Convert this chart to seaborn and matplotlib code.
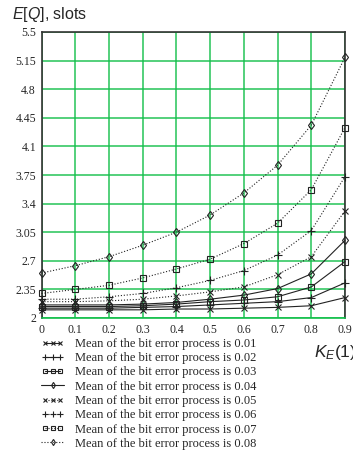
import matplotlib
matplotlib.use("Agg")
import matplotlib.pyplot as plt
import seaborn as sns
import pandas as pd
from matplotlib.lines import Line2D
from matplotlib.legend_handler import HandlerLine2D

sns.set_style("white")
plt.rcParams['mathtext.fontset'] = 'custom'
plt.rcParams['mathtext.it'] = 'Liberation Sans:italic'
plt.rcParams['mathtext.rm'] = 'Liberation Sans'

k_e = [0.0, 0.1, 0.2, 0.3, 0.4, 0.5, 0.6, 0.7, 0.8, 0.9]
means = ["0.01", "0.02", "0.03", "0.04", "0.05", "0.06", "0.07", "0.08"]
eq_001 = [2.10, 2.10, 2.10, 2.10, 2.11, 2.11, 2.12, 2.13, 2.15, 2.25]
eq_002 = [2.12, 2.12, 2.12, 2.13, 2.14, 2.16, 2.18, 2.20, 2.25, 2.43]
eq_003 = [2.14, 2.14, 2.14, 2.15, 2.17, 2.20, 2.22, 2.26, 2.38, 2.69]
eq_004 = [2.16, 2.16, 2.16, 2.17, 2.19, 2.23, 2.28, 2.36, 2.54, 2.95]
eq_005 = [2.20, 2.20, 2.21, 2.23, 2.27, 2.32, 2.38, 2.53, 2.75, 3.31]
eq_006 = [2.23, 2.23, 2.26, 2.30, 2.37, 2.46, 2.58, 2.77, 3.07, 3.73]
eq_007 = [2.30, 2.35, 2.40, 2.49, 2.60, 2.72, 2.91, 3.16, 3.57, 4.33]
eq_008 = [2.55, 2.64, 2.75, 2.89, 3.05, 3.26, 3.53, 3.87, 4.36, 5.19]
series = [eq_001, eq_002, eq_003, eq_004, eq_005, eq_006, eq_007, eq_008]
y_ticks = [2, 2.35, 2.7, 3.05, 3.4, 3.75, 4.1, 4.45, 4.8, 5.15, 5.5]
x_ticks = [0, 0.1, 0.2, 0.3, 0.4, 0.5, 0.6, 0.7, 0.8, 0.9]

markers = ["x", "+", "s", "d", "x", "+", "s", "d"]
msizes = [5, 6, 4.5, 4.5, 5, 6, 4.5, 4.5]
styles = ["-", "-", "-", "-", ":", ":", ":", ":"]

rows = []
for m, vals in zip(means, series):
    for x, y in zip(k_e, vals):
        rows.append({"KE": x, "EQ": y, "mean": m})
df = pd.DataFrame(rows)

fig = plt.figure(figsize=(3.53, 4.54), dpi=100)
ax = fig.add_axes([41.5/353, 1-318/454, (345-41.5)/353, (318-32)/454])

handles = []
for i, m in enumerate(means):
    sub = df[df["mean"] == m]
    sns.lineplot(data=sub, x="KE", y="EQ", ax=ax, color="#222222",
                 linestyle=styles[i], linewidth=0.8, marker=markers[i],
                 markersize=msizes[i], markerfacecolor="none",
                 markeredgecolor="#222222", markeredgewidth=0.8,
                 clip_on=False, zorder=3, legend=False)
    handles.append(Line2D([0], [0], color="#222222", linestyle=styles[i],
                          linewidth=0.8, marker=markers[i], markersize=msizes[i]*0.7,
                          markerfacecolor="none", markeredgecolor="#222222",
                          markeredgewidth=0.8))

ax.set_xlim(0, 0.9)
ax.set_ylim(2, 5.5)
ax.set_xticks(x_ticks)
ax.set_yticks(y_ticks)
ax.set_xticklabels([f"{v:g}" for v in x_ticks], family="Liberation Serif", fontsize=8.5)
ax.set_yticklabels([f"{v:g}" for v in y_ticks], family="Liberation Serif", fontsize=8.5)
ax.tick_params(axis="y", length=0, pad=4)
ax.tick_params(axis="x", length=0, pad=4)
ax.grid(True, color="#12bf4a", linewidth=1.2, alpha=0.85)
ax.set_axisbelow(True)
ax.set_xlabel("")
ax.set_ylabel("")
for s in ["left", "top", "right"]:
    ax.spines[s].set_color("#333333")
    ax.spines[s].set_linewidth(1.2)
ax.spines["bottom"].set_color("#12bf4a")
ax.spines["bottom"].set_linewidth(1.2)

fig.text(12/353, 1-14/454, r"$E$[$Q$], slots", family="Liberation Sans",
         fontsize=11.5, va="center", ha="left")
fig.text(314/353, 1-352/454, r"$K_E$(1)", family="Liberation Sans",
         fontsize=12.5, va="center", ha="left")

labels = [f"Mean of the bit error process is {m}" for m in means]
hmap = {handles[3]: HandlerLine2D(numpoints=1), handles[7]: HandlerLine2D(numpoints=1)}
fig.legend(handles, labels, loc="upper left", bbox_to_anchor=(41/353, 1-338/454),
           frameon=False, prop={"family": "Liberation Serif", "size": 9},
           numpoints=3, handlelength=1.85, handletextpad=0.9, labelspacing=0.18,
           borderpad=0, borderaxespad=0, handler_map=hmap)

fig.savefig("out.png", dpi=100)
